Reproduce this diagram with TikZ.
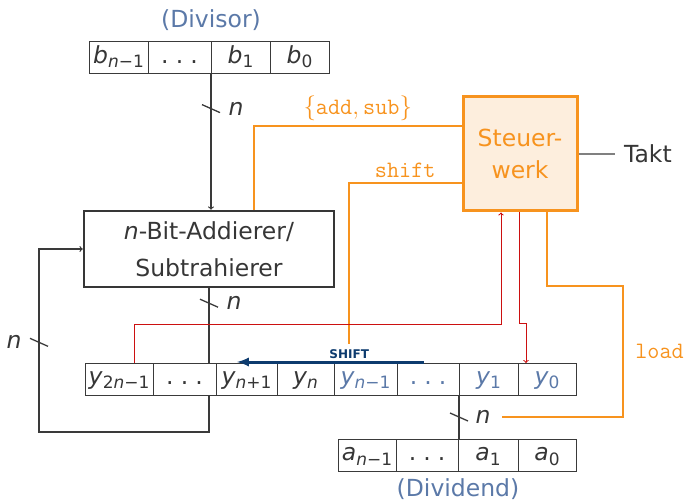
\documentclass[tikz,border=0pt]{standalone}
\usepackage{fontspec}
\setmainfont{DejaVu Sans}
\usetikzlibrary{arrows,positioning,calc}

\definecolor{steuerorange}{HTML}{F7931E}
\definecolor{steuerfill}{HTML}{FDEEDD}
\definecolor{regblue}{HTML}{5B79A8}
\definecolor{shiftblue}{HTML}{0D3B6E}
\definecolor{signalred}{HTML}{CC1010}
\definecolor{linegray}{HTML}{3A3A3A}
\definecolor{textgray}{HTML}{363636}

\newcommand{\subidx}[1]{\raisebox{-4.5pt}{\fontsize{17}{20}\selectfont #1}}
\newcommand{\regvar}[2]{\textit{#1}\subidx{#2}}
\newcommand{\regdots}{.\hspace{0.3em}.\hspace{0.3em}.}

\tikzset{busmark/.pic={\draw[-,linegray,line width=1.3pt] (-9,-4) -- (9,4);}}

\begin{document}
\begin{tikzpicture}
[x=1pt,y=-1pt,font=\fontsize{23.5}{28}\selectfont,text=textgray,
 cell/.style={draw=linegray,line width=1pt,inner sep=0pt,outer sep=0pt,
   minimum height=32,text height=17,text depth=6},
 lowcell/.style={cell,text=regblue},
 bus/.style={draw=linegray,line width=1.2pt},
 busn/.style={inner sep=2pt},
 ctrlline/.style={draw=steuerorange,line width=2pt},
 signal/.style={draw=signalred,line width=1pt,->},
 ctrltext/.style={text=steuerorange,font=\fontsize{23.5}{28}\ttfamily}]
      \useasboundingbox (0,0) rectangle (685,502);

      % Divisor
      \node[cell,minimum width=59] (div1) at (118.5,58) {\regvar{b}{\textit{n}−1}};
      \node[cell,minimum width=63] (div2) [right=0pt of div1] {\regdots};
      \node[cell,minimum width=59] (div3) [right=0pt of div2] {\regvar{b}{1}};
      \node[cell,minimum width=59] (div4) [right=0pt of div3] {\regvar{b}{0}};
      \node[text=regblue] (divisor) [above=8pt of div2.north east] {(Divisor)};

      % Register
      \node[cell,minimum width=68] (reg1) at (119,379) {\regvar{y}{2\textit{n}−1}};
      \node[cell,minimum width=63] (reg2) [right=0pt of reg1] {\regdots};
      \node[cell,minimum width=61] (reg3) [right=0pt of reg2] {\regvar{y}{\textit{n}+1}};
      \node[cell,minimum width=57] (reg4) [right=0pt of reg3] {\regvar{y}{\textit{n}}};
      \node[lowcell,minimum width=63] (reg5) [right=0pt of reg4] {\regvar{y}{\textit{n}−1}};
      \node[lowcell,minimum width=62] (reg6) [right=0pt of reg5] {\regdots};
      \node[lowcell,minimum width=59] (reg7) [right=0pt of reg6] {\regvar{y}{1}};
      \node[lowcell,minimum width=58] (reg8) [right=0pt of reg7] {\regvar{y}{0}};

      % Dividend
      \node[cell,minimum width=58] (dvd1) at (367,455) {\regvar{a}{\textit{n}−1}};
      \node[cell,minimum width=62] (dvd2) [right=0pt of dvd1] {\regdots};
      \node[cell,minimum width=60] (dvd3) [right=0pt of dvd2] {\regvar{a}{1}};
      \node[cell,minimum width=58] (dvd4) [right=0pt of dvd3] {\regvar{a}{0}};
      \node[text=regblue] (dividend) [below=4pt of dvd2.south east] {(Dividend)};

      % Addierer und Steuerwerk
      \node[draw=textgray,line width=2.5pt,minimum width=250,minimum height=76,
        align=center,font=\fontsize{23.5}{37}\selectfont] (adder) at (209,249)
        {\textit{n}-Bit-Addierer/\\Subtrahierer};
      \node[draw=steuerorange,fill=steuerfill,line width=3pt,minimum width=114,
        minimum height=114,align=center,text=steuerorange,
        font=\fontsize{23.5}{32}\selectfont] (ctrl) at (520,154) {Steuer-\\werk};
      \node (takt) [right=42pt of ctrl] {Takt};
      \draw[draw=gray,line width=1.2pt] (ctrl.east) -- ([xshift=-6pt]takt.west);

      \coordinate (loopleft) at (39,432);
      \coordinate (shiftend) at (349,344);
      \coordinate (loadcorner) at (623,286);
      \coordinate (redcorner) at (501,325);
      \coordinate (redjog) at (526,324);
      \coordinate (shiftfrom) at (424,362);
      \coordinate (shiftto) at (237,362);

      % Datenpfade
      \draw[bus,->] (div3.south west) -- pic[pos=0.255]{busmark}
        node[busn,pos=0.255,right=15pt] {\textit{n}} (div3.south west |- adder.north);
      \draw[bus] (adder.south) -- pic[pos=0.2]{busmark}
        node[busn,pos=0.2,right=15pt] {\textit{n}} (adder.south |- reg1.north);
      \draw[bus,->] (adder.south |- reg1.south) |- (loopleft)
        -- pic[pos=0.49]{busmark} node[busn,pos=0.49,left=15pt] {\textit{n}}
        (loopleft |- adder.west) -- (adder.west);
      \draw[bus] (reg7.south west) -- pic[pos=0.5]{busmark}
        node[busn,pos=0.5,right=14pt] (loadn) {\textit{n}} (reg7.south west |- dvd3.north);

      % Steuersignale
      \draw[ctrlline] ([yshift=28pt]ctrl.west) -| node[ctrltext,pos=0.25,above=1pt]
        {$\{\texttt{add},\texttt{sub}\}$} ([xshift=45pt]adder.north);
      \draw[ctrlline] ([yshift=-29pt]ctrl.west) -| node[ctrltext,pos=0.25,above=1pt]
        {shift} (shiftend);
      \draw[ctrlline] ([xshift=27pt]ctrl.south) |- (loadcorner)
        |- node[ctrltext,pos=0.25,right=8pt] {load} ([xshift=9pt]loadn.east);
      \draw[signal] ([xshift=15pt]reg1.north) |- (redcorner) -- (redcorner |- ctrl.south);
      \draw[signal] ([xshift=-1pt]ctrl.south) |- (redjog) -- (redjog |- reg8.north);

      \draw[draw=shiftblue,line width=3pt,-latex] (shiftfrom) --
        node[pos=0.4,above=0pt,inner sep=2pt,text=shiftblue,
          font=\fontsize{12}{14}\bfseries] {SHIFT} (shiftto);

\end{tikzpicture}
\end{document}
